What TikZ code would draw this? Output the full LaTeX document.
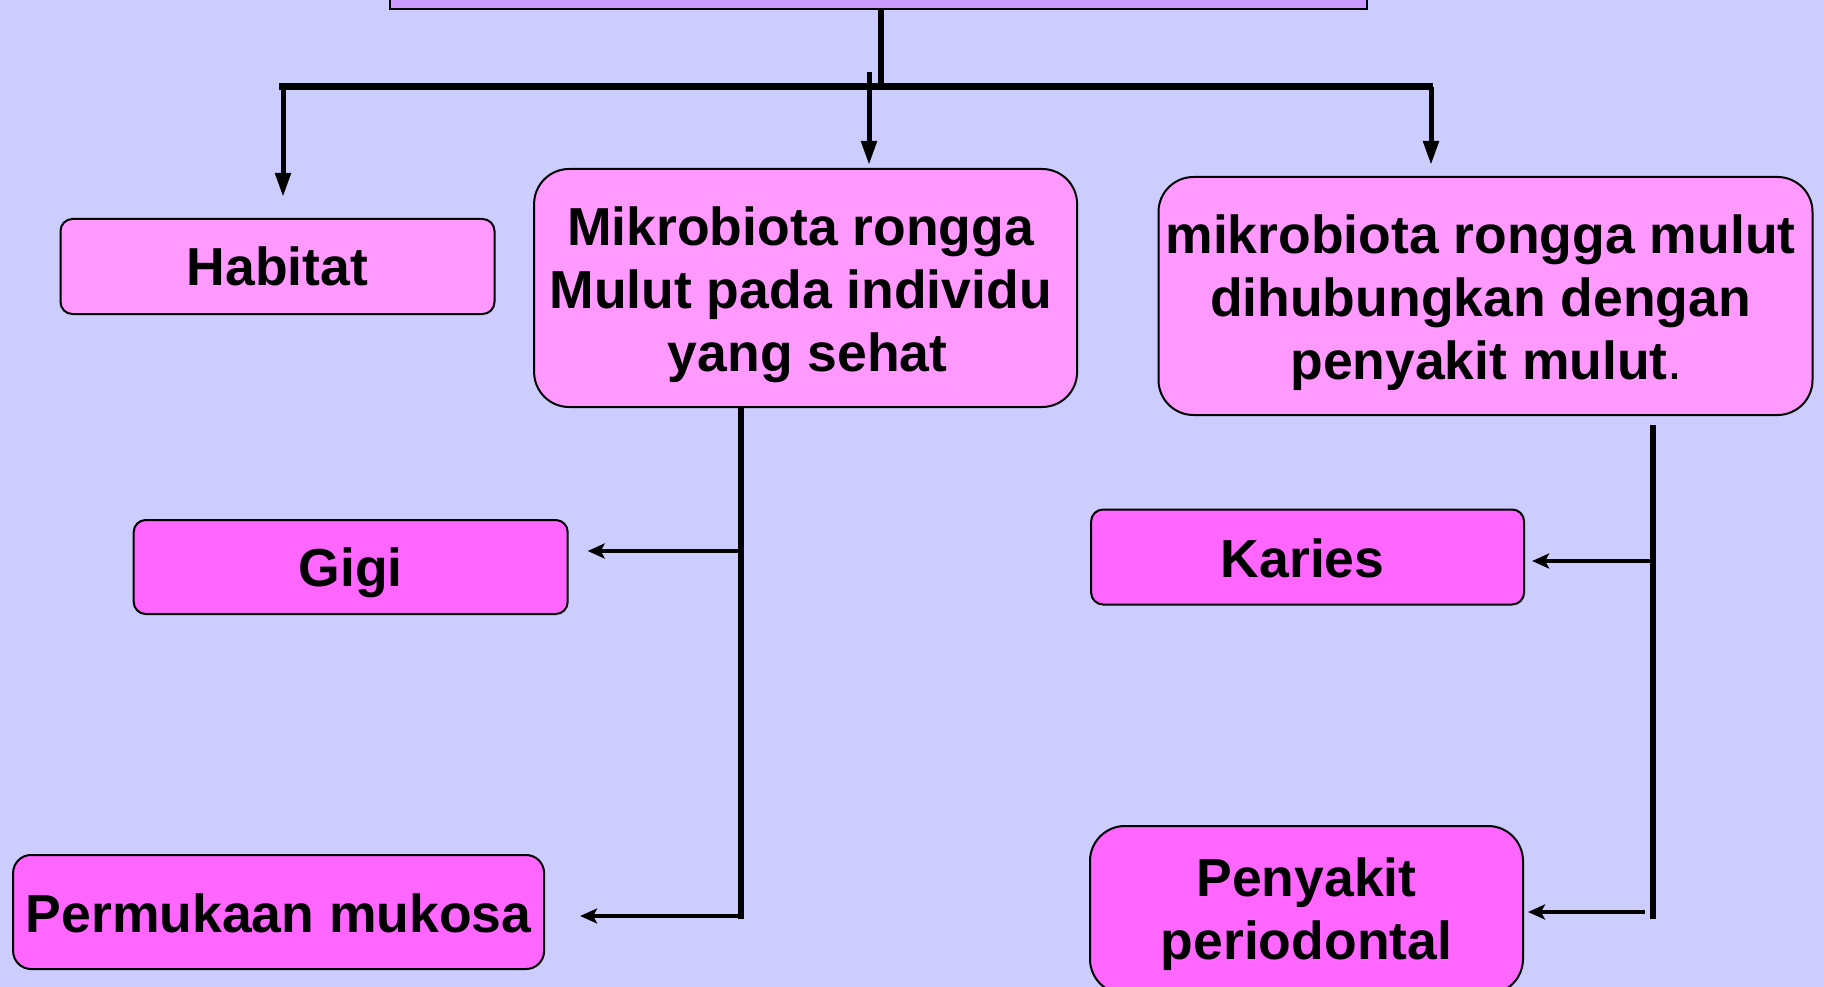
\documentclass[tikz,border=0pt]{standalone}
\usepackage{fontspec}
\setmainfont{Liberation Sans}
\usetikzlibrary{arrows.meta}
\definecolor{bgc}{HTML}{CCCCFF}
\definecolor{topc}{HTML}{CC99FF}
\definecolor{lightp}{HTML}{FF99FF}
\definecolor{darkp}{HTML}{FF66FF}
% lower the text (#1) and move it left (#2) without changing the box it reports
\newcommand{\lowtext}[3]{\raisebox{-#1}[\height][\depth]{\kern-#2\begin{tabular}{@{}c@{}}#3\end{tabular}\kern#2}}
\begin{document}
\begin{tikzpicture}[x=1pt,y=-1pt,
  box/.style={draw=black, line width=2pt, inner sep=0pt,
    font=\fontsize{53.5}{63}\selectfont\bfseries},
  lightbox/.style={box, fill=lightp},
  darkbox/.style={box, fill=darkp},
  trunk/.style={line width=6pt},
  barline/.style={line width=7pt},
  downarrow/.style={line width=5pt, -{Triangle[length=24pt,width=15pt]}},
  sidearrow/.style={line width=4pt, -{Stealth[length=17pt,width=15pt,inset=4pt]}},
  vline/.style={line width=5.5pt}
]
\useasboundingbox (0,0) rectangle (1824,987);
\clip (0,0) rectangle (1824,987);
\fill[bgc] (0,0) rectangle (1824,987);

% top box (cut off by the page edge)
\node[draw=black, line width=2pt, fill=topc, minimum width=977pt, minimum height=50pt, inner sep=0pt]
  (top) at (878.5,-16) {};

% level 1 boxes
\node[lightbox, rounded corners=12pt, minimum width=434pt, minimum height=95pt]
  (habitat) at (277.5,266.5) {\lowtext{6.7pt}{0pt}{Habitat}};
\node[lightbox, rounded corners=35pt, minimum width=543pt, minimum height=238pt]
  (healthy) at (805.6,288) {\lowtext{8pt}{5pt}{Mikrobiota rongga\\Mulut pada individu\\\kern14pt yang sehat}};
\node[lightbox, rounded corners=35pt, minimum width=654pt, minimum height=238pt]
  (disease) at (1485.5,296) {\lowtext{7.6pt}{5pt}{mikrobiota rongga mulut\\dihubungkan dengan\\\kern12pt penyakit mulut{\mdseries .}}};

% level 2 boxes
\node[darkbox, rounded corners=12pt, minimum width=434pt, minimum height=94pt]
  (gigi) at (350.7,567) {\lowtext{7pt}{0pt}{Gigi}};
\node[darkbox, rounded corners=18pt, minimum width=531pt, minimum height=114pt]
  (mukosa) at (278.6,912) {\lowtext{7.9pt}{0pt}{Permukaan mukosa}};
\node[darkbox, rounded corners=12pt, minimum width=433pt, minimum height=95pt]
  (karies) at (1307.6,557) {\lowtext{7.9pt}{5pt}{Karies}};
\node[darkbox, rounded corners=35pt, minimum width=433pt, minimum height=168pt]
  (perio) at (1306.5,910) {\lowtext{5.2pt}{0pt}{Penyakit\\periodontal}};

% junction coordinates
\coordinate (jm) at (881,87);
\coordinate (barL) at (279,87);
\coordinate (barR) at (1433,87);
\coordinate (aL) at (283,87);
\coordinate (aM) at (869,72);
\coordinate (aR) at (1431,87);
\coordinate (lv) at (741,916);
\coordinate (lg) at (741,551);
\coordinate (rvTop) at (1653,425);
\coordinate (rvBot) at (1653,919);
\coordinate (rk) at (1650,561);
\coordinate (rp) at (1645,912);

% top connectors
\draw[trunk] (top.south -| jm) -- (jm);
\draw[barline] (barL) -- (barR);
\draw[downarrow, shorten >=21pt] (aL) -- (habitat.north -| aL);
\draw[downarrow, shorten >=3pt] (aM) -- (healthy.north -| aM);
\draw[downarrow, shorten >=11pt] (aR) -- (disease.north -| aR);

% left branch
\draw[vline] (healthy.south -| lv) -- ([yshift=-2.5pt]lv);
\draw[sidearrow, shorten >=19pt] (lg) -- (gigi.east |- lg);
\draw[sidearrow, shorten >=35pt] (lv) -- (mukosa.east |- lv);

% right branch
\draw[vline] (rvTop) -- (rvBot);
\draw[sidearrow, shorten >=7pt] (rk) -- (karies.east |- rk);
\draw[sidearrow, shorten >=4pt] (rp) -- (perio.east |- rp);
\end{tikzpicture}
\end{document}
